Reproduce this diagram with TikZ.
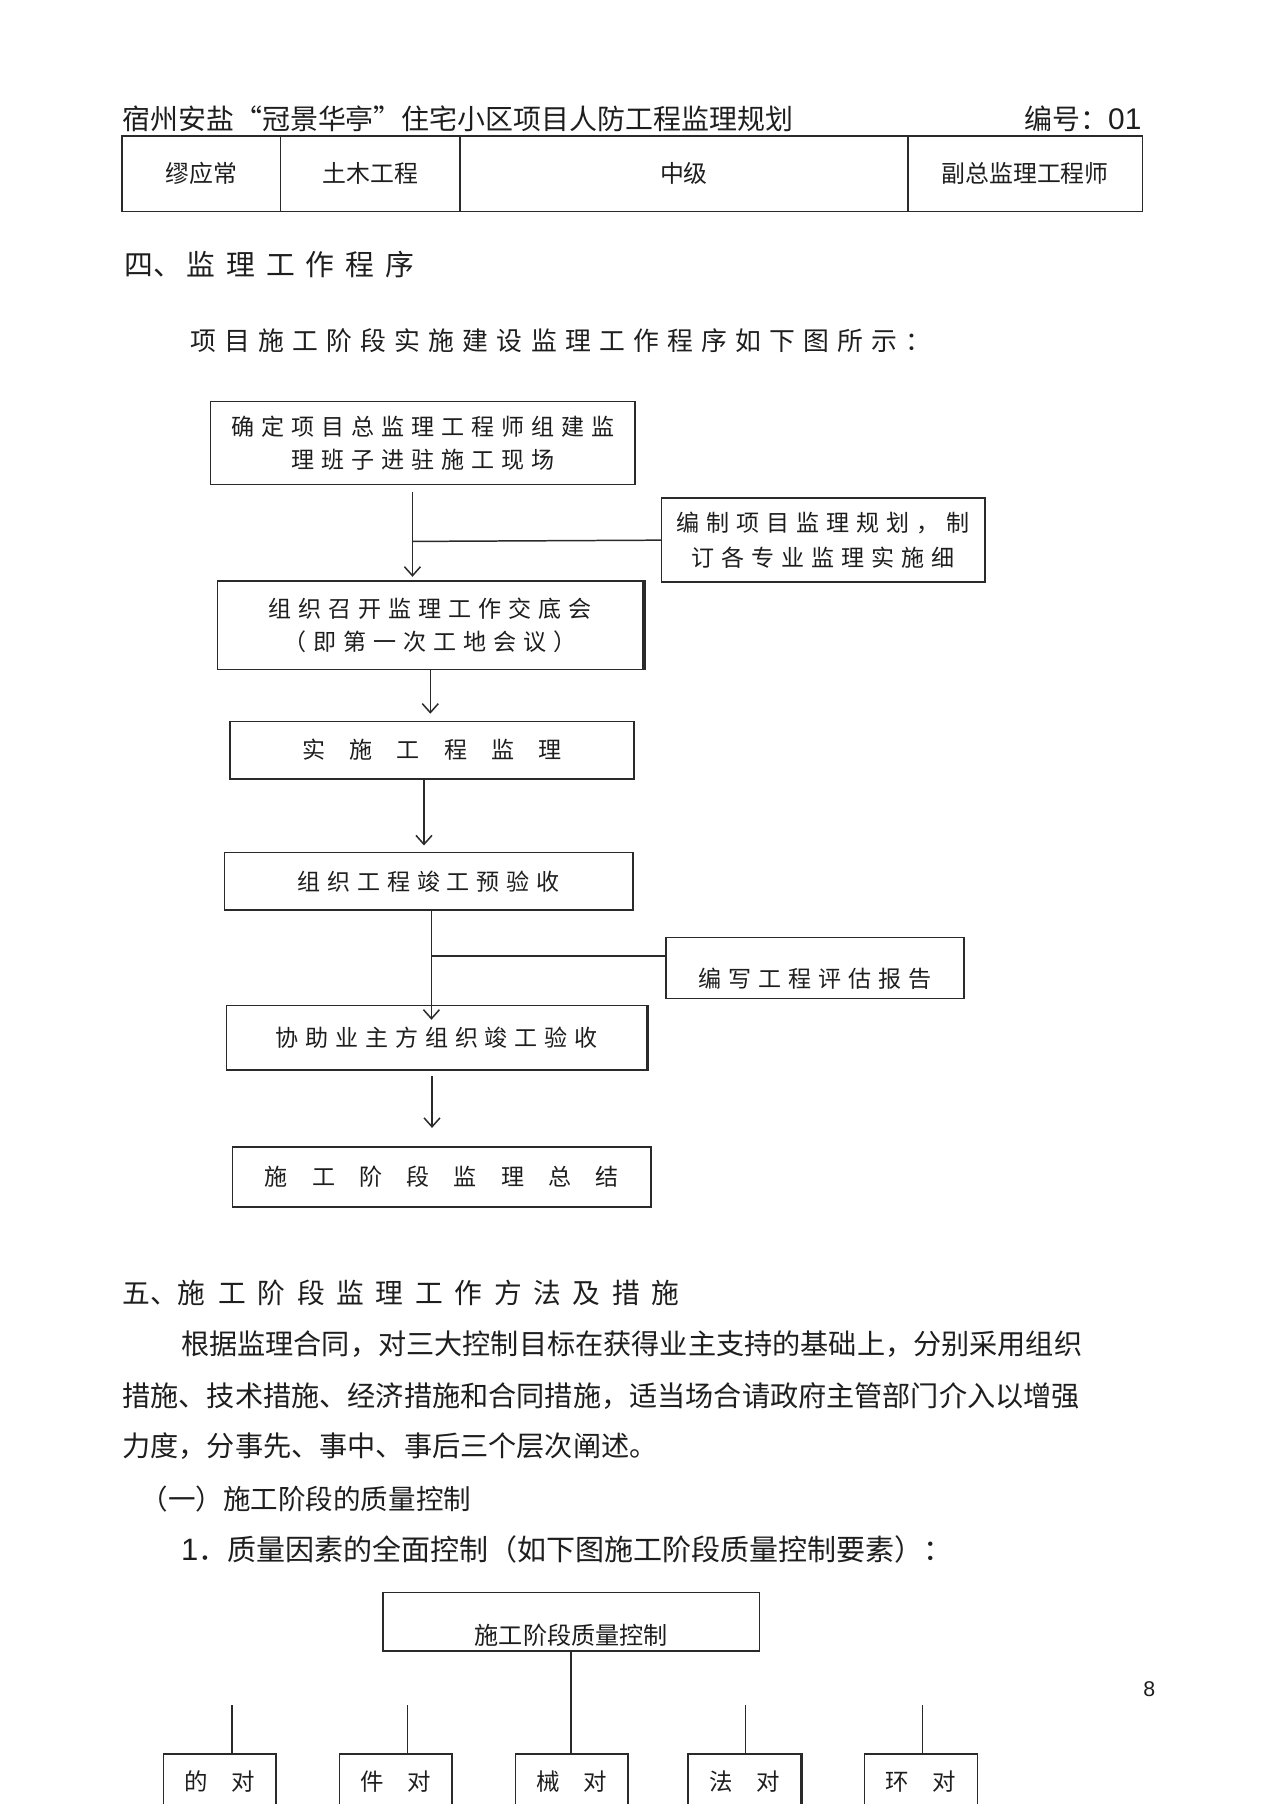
\documentclass[tikz,border=0pt]{standalone}
\usepackage{fontspec}
\setmainfont{Noto Sans CJK SC}
\newfontfamily\arialfont{Liberation Sans}
\usetikzlibrary{arrows.meta,positioning,calc}
\definecolor{ink}{HTML}{1E1E1E}
\definecolor{rule}{HTML}{2A2A2A}
\newdimen\dpx \dpx=0.5393pt
\newcommand\track[1]{\addfontfeature{LetterSpace=#1}}
\newcommand\boxfont{\fontsize{10.8pt}{15.6pt}\selectfont\track{30}}
\newcommand\bodyfont{\fontsize{13.2pt}{16pt}\selectfont}
\tikzset{
  txt/.style={anchor=west, inner sep=0pt, text=ink},
  cell/.style={draw=rule, line width=0.7pt, minimum height=66\dpx, inner sep=0pt,
               text=ink, font=\fontsize{11.2pt}{13pt}\selectfont},
  stepbox/.style={draw=rule, line width=0.7pt, inner sep=0pt, align=center,
                  text=ink, font=\boxfont},
  leafbox/.style={draw=rule, line width=0.7pt, anchor=north, inner xsep=0pt, inner ysep=0pt,
                  minimum width=98\dpx, text height=17.1pt, text depth=40pt,
                  text=ink, font=\fontsize{11pt}{13pt}\selectfont},
  arrow/.style={-{Straight Barb[length=4.2pt,width=7.5pt]}, line width=0.7pt, draw=rule},
  link/.style={line width=0.7pt, draw=rule},
  heavy/.style={line width=1.5pt, draw=rule}
}

\begin{document}
\begin{tikzpicture}[x=0.018953cm,y=-0.018953cm]
  \clip (0,0) rectangle (1108,1568);
  \fill[white] (0,0) rectangle (1108,1568);

  % page head
  \node[txt, font=\fontsize{13.1pt}{15pt}\selectfont] (title) at (106,103)
    {宿州安盐“冠景华亭”住宅小区项目人防工程监理规划};
  \node[txt, font=\fontsize{13.1pt}{15pt}\selectfont] (serial) at (890,103)
    {编号：{\arialfont\fontsize{14pt}{16pt}\selectfont 01}};
  \node[cell, minimum width=138\dpx] (c1) at (175,151) {缪应常};
  \node[cell, minimum width=156\dpx] (c2) at (322,151) {土木工程};
  \node[cell, minimum width=389\dpx] (c3) at (594.5,151) {中级};
  \node[cell, minimum width=204\dpx] (c4) at (891,151) {副总监理工程师};

  \node[txt, font=\fontsize{13.5pt}{16pt}\selectfont] (sec4) at (108,230)
    {四、\hspace{2pt}{\track{38}监理工作程序}};
  \node[txt, font=\fontsize{12.1pt}{15pt}\selectfont\track{32}] (intro) at (165,296)
    {项目施工阶段实施建设监理工作程序如下图所示：};

  % work procedure
  \node[stepbox, minimum width=369\dpx, minimum height=72\dpx] (b1) at (367.5,385)
    {确定项目总监理工程师组建监\\理班子进驻施工现场};
  \node[stepbox, minimum width=281\dpx, minimum height=73\dpx] (plan) at (715.5,469.5)
    {编制项目监理规划，制\\[1pt]订各专业监理实施细};
  \node[stepbox, minimum width=370\dpx, minimum height=77\dpx] (b2) at (374,543.5)
    {组织召开监理工作交底会\\（即第一次工地会议）};
  \node[stepbox, minimum width=351\dpx, minimum height=50\dpx] (b3) at (375.5,652)
    {\track{105}实施工程监理};
  \node[stepbox, minimum width=355\dpx, minimum height=50\dpx] (b4) at (372.5,766)
    {组织工程竣工预验收};
  \node[stepbox, minimum width=259\dpx, text height=23.5pt, text depth=5.1pt] (report) at (708.5,841.5)
    {编写工程评估报告};
  \node[stepbox, minimum width=365\dpx, minimum height=56\dpx] (b5) at (379.5,902)
    {协助业主方组织竣工验收};
  \node[stepbox, minimum width=364\dpx, minimum height=52\dpx] (b6) at (384,1023)
    {\track{105}施工阶段监理总结};
  \draw[heavy] (b2.north east) -- (b2.south east);
  \draw[heavy] (b5.north east) -- (b5.south east);

  \coordinate (j1) at (358.5,470.6);
  \draw[arrow, shorten <=6\dpx, shorten >=3\dpx] (b1.south -| j1) -- (b2.north -| j1);
  \draw[link] (plan.west) -- (j1);
  \draw[arrow, shorten >=6\dpx] (b2.south) -- (b2.south |- b3.north);
  \coordinate (a3) at ($(b3.south)+(-7,0)$);
  \draw[arrow, shorten >=5.5\dpx] (a3) -- (a3 |- b4.north);
  \coordinate (j2) at (375,831);
  \draw[arrow, shorten >=-13\dpx] (b4.south -| j2) -- (b5.north -| j2);
  \draw[link] (report.west |- j2) -- (j2);
  \coordinate (a5) at ($(b5.south)+(-4,0)$);
  \draw[arrow, shorten <=5\dpx, shorten >=16\dpx] (a5) -- (a5 |- b6.north);

  % methods text
  \node[txt, font=\fontsize{13pt}{16pt}\selectfont] (sec5) at (106,1124)
    {五、{\track{42}施\hspace{6pt}工阶段监理工作方法及措施}};
  \node[txt, font=\bodyfont] (p1) at (157,1168)
    {根据监理合同，对三大控制目标在获得业主支持的基础上，分别采用组织};
  \node[txt, font=\bodyfont] (p2) at (106,1213)
    {措施、技术措施、经济措施和合同措施，适当场合请政府主管部门介入以增强};
  \node[txt, font=\bodyfont] (p3) at (106,1257)
    {力度，分事先、事中、事后三个层次阐述。};
  \node[txt, font=\fontsize{12.9pt}{15pt}\selectfont] (sub1) at (122,1303)
    {（一）施工阶段的质量控制};
  \node[txt, font=\fontsize{13.6pt}{16pt}\selectfont] (item1) at (157,1347)
    {{\arialfont\fontsize{14.5pt}{16pt}\selectfont 1}．质量因素的全面控制（如下图施工阶段质量控制要素）：};

  % quality control tree
  \node[stepbox, font=\fontsize{11.3pt}{13pt}\selectfont, minimum width=327\dpx,
        text height=24.3pt, text depth=3.2pt] (top2) at (496.5,1409.5) {施工阶段质量控制};
  \foreach \x/\c/\n in {191/的/l1, 344/件/l2, 497/械/l3, 647/法/l4, 800.5/环/l5}
    \node[leafbox] (\n) at (\x,1524) {\c\hspace{1em}对};
  \draw[link] (top2.south) -- (top2.south |- l3.north);
  \foreach \x/\n in {201.6/l1, 354/l2, 648/l4, 802/l5} {
    \coordinate (t\n) at (\x,1482);
    \draw[link] (t\n) -- (t\n |- \n.north);
  }
  \draw[heavy] (l4.north east) -- (l4.south east);

  \node[inner sep=0pt, text=ink, font=\arialfont\fontsize{10pt}{12pt}\selectfont] (pageno) at (999,1468) {8};
\end{tikzpicture}
\end{document}
